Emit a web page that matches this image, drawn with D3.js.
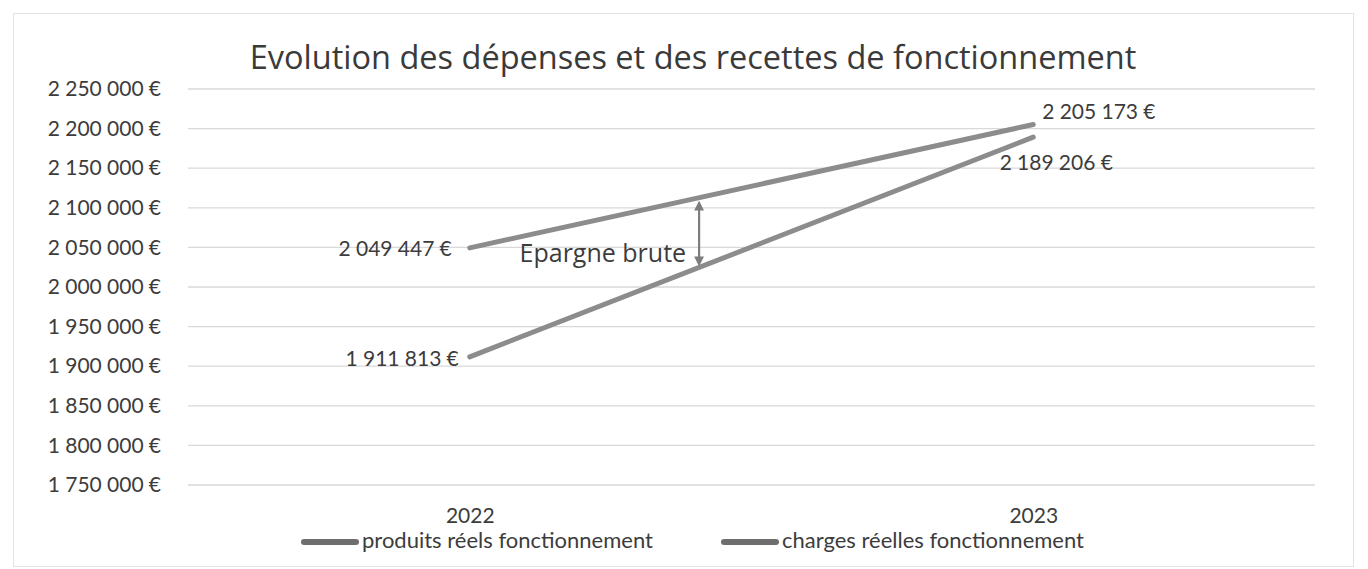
<!DOCTYPE html>
<html><head><meta charset="utf-8">
<script src="https://cdn.jsdelivr.net/npm/d3@7"></script>
<style>body{margin:0;background:#fff}svg{display:block}text{font-family:Lato,"Open Sans",sans-serif;fill:#3c3c3c}</style>
</head><body><svg id="c" width="1368" height="569"></svg>
<script>
const title = "Evolution des dépenses et des recettes de fonctionnement";
const years = ["2022", "2023"];
const produits = [2049447, 2205173];
const charges = [1911813, 2189206];
const seriesNames = ["produits réels fonctionnement", "charges réelles fonctionnement"];
const yTicks = [1750000, 1800000, 1850000, 1900000, 1950000, 2000000, 2050000, 2100000, 2150000, 2200000, 2250000];
const annotation = "Epargne brute";

(function () {
const fmt = v => d3.format(",")(v).replace(/,/g, "\u2005") + "\u2005€";
const svg = d3.select("#c");
const pL = 188, pR = 1315, pT = 89, pB = 485;
const lineColor = "#8c8c8c";

svg.append("rect").attr("x", 13.5).attr("y", 13.5).attr("width", 1340).attr("height", 553)
  .attr("fill", "#fff").attr("stroke", "#e3e3e3");

const x = d3.scalePoint().domain(years).range([pL, pR]).padding(0.5);
const y = d3.scaleLinear().domain([1750000, 2250000]).range([pB, pT]);

svg.append("g").selectAll("line").data(yTicks).join("line")
  .attr("x1", pL).attr("x2", pR).attr("y1", d => y(d)).attr("y2", d => y(d))
  .attr("stroke", "#d9d9d9").attr("stroke-width", 1.3);

const yAxis = svg.append("g").attr("transform", `translate(${pL},0)`)
  .call(d3.axisLeft(y).tickValues(yTicks).tickFormat(fmt).tickSize(0).tickPadding(27));
yAxis.select(".domain").remove();
yAxis.selectAll("text").style("font-size", "21px").style("fill", "#3c3c3c").style("font-family", "Lato");

const xAxis = svg.append("g").attr("transform", `translate(0,${pB})`)
  .call(d3.axisBottom(x).tickSize(0).tickPadding(23));
xAxis.select(".domain").remove();
xAxis.selectAll("text").style("font-size", "21px").style("fill", "#3c3c3c").style("font-family", "Lato");

svg.append("text").attr("x", 693).attr("y", 69).attr("text-anchor", "middle")
  .style("font-size", "32.5px").style("font-family", "'Open Sans'").style("fill", "#3a3a3a").text(title);

const line = d3.line().x((d, i) => x(years[i])).y(d => y(d));
[produits, charges].forEach(s => {
  svg.append("path").datum(s).attr("d", line).attr("fill", "none")
    .attr("stroke", lineColor).attr("stroke-width", 5).attr("stroke-linecap", "round");
});

const lab = (xx, yy, t, anchor) => svg.append("text").attr("x", xx).attr("y", yy)
  .attr("text-anchor", anchor).attr("dominant-baseline", "middle").style("font-size", "21px").text(fmt(t));
lab(x(years[0]) - 18, y(produits[0]) + 3, produits[0], "end");
lab(x(years[0]) - 11, y(charges[0]) + 4, charges[0], "end");
lab(x(years[1]) + 9, y(produits[1]) - 11, produits[1], "start");
lab(x(years[1]) + 23, y(charges[1]) + 28, charges[1], "middle");

const t = 0.407;
const ax = x(years[0]) + t * (x(years[1]) - x(years[0]));
const vTop = produits[0] + t * (produits[1] - produits[0]);
const vBot = charges[0] + t * (charges[1] - charges[0]);
const defs = svg.append("defs");
defs.append("marker").attr("id", "arr").attr("viewBox", "0 0 10 10").attr("refX", 5).attr("refY", 5)
  .attr("markerWidth", 4.5).attr("markerHeight", 4.5).attr("orient", "auto-start-reverse")
  .append("path").attr("d", "M0,0 L10,5 L0,10 z").attr("fill", "#7d7d7d");
svg.append("line").attr("x1", ax).attr("x2", ax).attr("y1", y(vTop) + 8).attr("y2", y(vBot) - 6)
  .attr("stroke", "#7d7d7d").attr("stroke-width", 2.2)
  .attr("marker-start", "url(#arr)").attr("marker-end", "url(#arr)");
svg.append("text").attr("x", ax - 13).attr("y", (y(vTop) + y(vBot)) / 2 + 23).attr("text-anchor", "end")
  .attr("dominant-baseline", "middle").style("font-size", "25px").style("font-family", "'Open Sans'").text(annotation);

const lg = [{x: 300, name: seriesNames[0]}, {x: 720, name: seriesNames[1]}];
lg.forEach(d => {
  svg.append("line").attr("x1", d.x + 4).attr("x2", d.x + 56).attr("y1", 542).attr("y2", 542)
    .attr("stroke", "#6e6e6e").attr("stroke-width", 6).attr("stroke-linecap", "round");
  svg.append("text").attr("x", d.x + 62).attr("y", 542).attr("dominant-baseline", "middle")
    .style("font-size", "22px").text(d.name);
});
})();
</script></body></html>
